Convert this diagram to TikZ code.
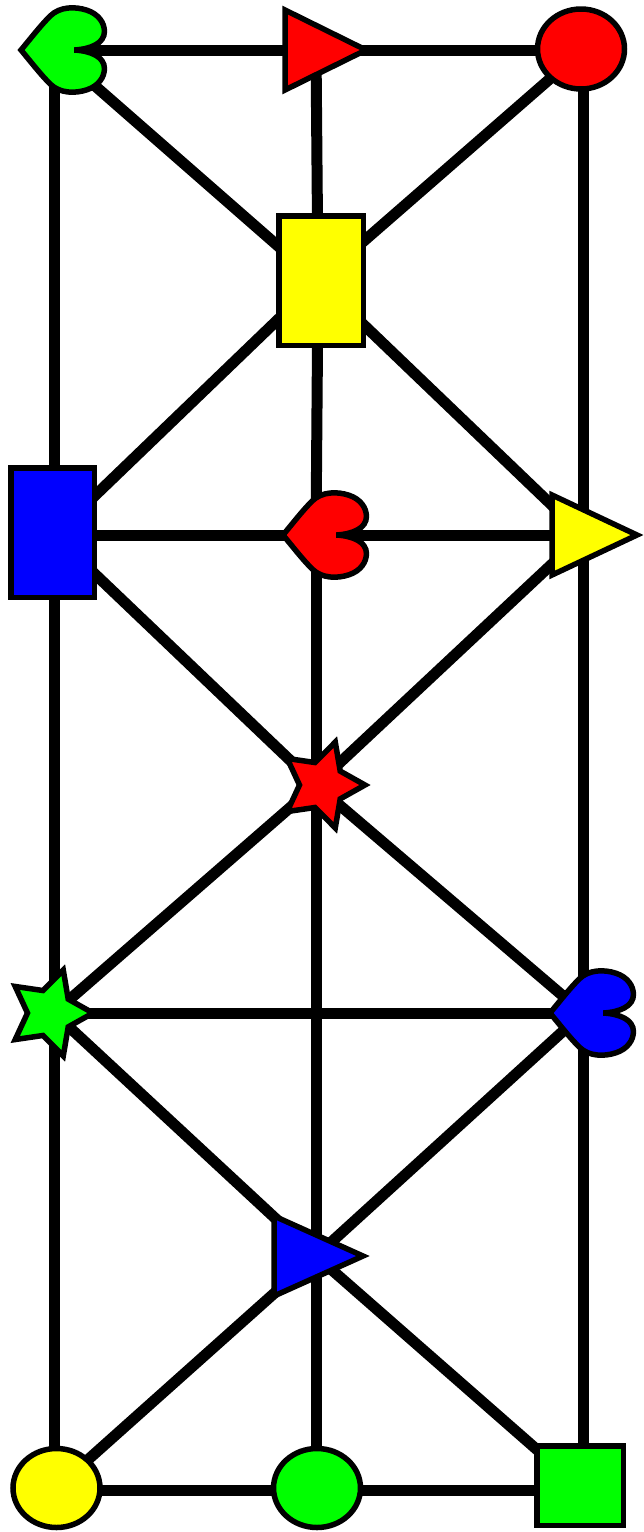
\documentclass[tikz,border=0pt]{standalone}
\usetikzlibrary{shapes.geometric}
\definecolor{cRed}{RGB}{255,0,0}
\definecolor{cGreen}{RGB}{0,255,0}
\definecolor{cBlue}{RGB}{0,0,255}
\definecolor{cYellow}{RGB}{255,255,0}
\newcommand{\mytri}[5]{%
  \begin{scope}[shift={(#1)}]
    \filldraw[shapeline,fill=#2] (-#3,-#5) -- (#4,0) -- (-#3,#5) -- cycle;
  \end{scope}}
\newcommand{\mystar}[4]{%
  \begin{scope}[shift={(#1)},yscale=1.05]
    \filldraw[shapeline,fill=#2] (0:#3) -- (36:#4) -- (72:#3) -- (108:#4) -- (144:#3)
      -- (180:#4) -- (216:#3) -- (252:#4) -- (288:#3) -- (324:#4) -- cycle;
  \end{scope}}
\begin{document}
\begin{tikzpicture}[x=1pt,y=-1pt,
  edge/.style={line width=11pt,line cap=round},
  shapeline/.style={draw=black,line width=5.5pt},
  shp/.style={shapeline,inner sep=0pt,outer sep=0pt},
  heart/.pic={\filldraw[shapeline,fill=#1,scale=0.97]
    (-34,0) .. controls (-24,-12) and (-14,-25) .. (-4,-35)
    .. controls (6,-45) and (22,-45) .. (34,-41)
    .. controls (46,-37) and (52,-28) .. (52,-19)
    .. controls (52,-7) and (38,-1) .. (21,0)
    .. controls (38,1) and (52,7) .. (52,19)
    .. controls (52,28) and (46,37) .. (34,41)
    .. controls (22,45) and (6,45) .. (-4,35)
    .. controls (-14,25) and (-24,12) .. (-34,0) -- cycle;}
]
\useasboundingbox[fill=white] (0,0) rectangle (644,1532);
% crossing points
\coordinate (gh) at (54,50);
\coordinate (rt) at (316,50);
\coordinate (rc) at (583,50);
\coordinate (yr) at (318,281);
\coordinate (br) at (54,535);
\coordinate (rh) at (316,535);
\coordinate (yt) at (583,535);
\coordinate (rs) at (316,785);
\coordinate (gs) at (54,1013);
\coordinate (bh) at (583,1013);
\coordinate (bt) at (316,1256);
\coordinate (yc) at (54,1490);
\coordinate (gc) at (316,1490);
\coordinate (gsq) at (583,1490);
\coordinate (rsC) at (322,785);
\coordinate (gsC) at (50,1013);
% connectors
\foreach \a/\b in {gh/rt, rt/rc, gh/br, br/gs, gs/yc, rt/yr, yr/rh, rh/rs, rs/bt, bt/gc,
  rc/yt, yt/bh, bh/gsq, br/rh, rh/yt, gs/bh, yc/gc, gc/gsq,
  gh/yr, rc/yr, yr/br, yr/yt, br/rs, yt/rs, rs/gs, rs/bh, gs/bt, bh/bt, bt/yc, bt/gsq}
  \draw[edge] (\a) -- (\b);
% shapes
\pic (ghP) at (gh) {heart=cGreen};
\pic (rhP) at (rh) {heart=cRed};
\pic (bhP) at (bh) {heart=cBlue};
\mytri{rt}{cRed}{31}{50}{40}
\mytri{yt}{cYellow}{31}{54}{40}
\mytri{bt}{cBlue}{42}{47}{40}
\mystar{rsC}{cRed}{43}{22.5}
\mystar{gsC}{cGreen}{43}{22.5}
\node[shp,ellipse,fill=cRed,minimum width=87pt,minimum height=80pt] (rcN) at (581,49) {};
\node[shp,ellipse,fill=cYellow,minimum width=87pt,minimum height=79pt] (ycN) at (56.5,1488) {};
\node[shp,ellipse,fill=cGreen,minimum width=87pt,minimum height=79pt] (gcN) at (317,1488) {};
\node[shp,rectangle,fill=cYellow,minimum width=84.5pt,minimum height=129.5pt] (yrN) at (321,280.5) {};
\node[shp,rectangle,fill=cBlue,minimum width=83.5pt,minimum height=129.5pt] (brN) at (52.5,532.5) {};
\node[shp,rectangle,fill=cGreen,minimum width=86.5pt,minimum height=79.5pt] (gsqN) at (580,1485.5) {};
\end{tikzpicture}
\end{document}
